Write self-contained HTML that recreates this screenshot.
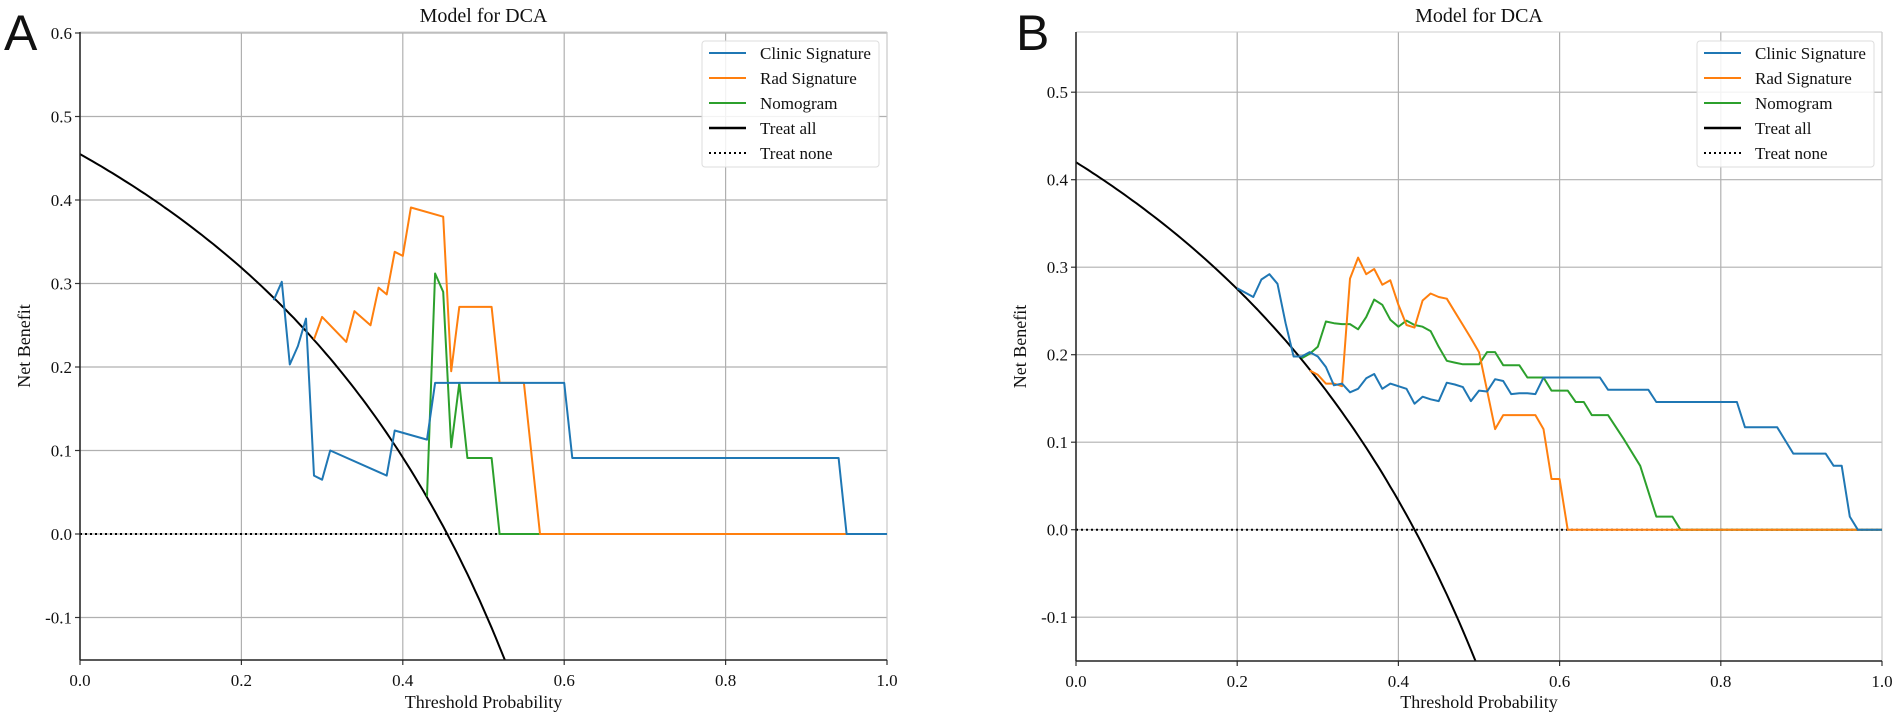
<!DOCTYPE html>
<html><head><meta charset="utf-8"><style>
html,body{margin:0;padding:0;background:#fff;width:1902px;height:716px;overflow:hidden;}
svg{display:block;font-family:"Liberation Serif",serif;overflow:hidden;}
</style></head><body>
<svg id="chart" width="1902" height="716" viewBox="0 0 1902 716" xmlns="http://www.w3.org/2000/svg"></svg>
<script>
// Panel A data
const aClinicT = [0.24,0.25,0.26,0.27,0.28,0.29,0.30,0.31,0.38,0.39,0.43,0.44,0.60,0.61,0.94,0.95,1.0];
const aClinicV = [0.28,0.302,0.203,0.225,0.258,0.07,0.065,0.10,0.07,0.124,0.113,0.181,0.181,0.091,0.091,0.0,0.0];
const aRadT = [0.29,0.30,0.33,0.34,0.36,0.37,0.38,0.39,0.40,0.41,0.45,0.46,0.47,0.51,0.52,0.55,0.57,1.0];
const aRadV = [0.233,0.26,0.23,0.267,0.25,0.295,0.287,0.338,0.333,0.391,0.38,0.195,0.272,0.272,0.181,0.181,0.0,0.0];
const aNomoT = [0.43,0.44,0.45,0.46,0.47,0.48,0.51,0.52,1.0];
const aNomoV = [0.045,0.312,0.29,0.104,0.181,0.091,0.091,0.0,0.0];
const aPrevalence = 0.455;
// Panel B data
const bClinicT = [0.20,0.22,0.23,0.24,0.25,0.26,0.27,0.28,0.29,0.30,0.31,0.32,0.33,0.34,0.35,0.36,0.37,0.38,0.39,0.40,0.41,0.42,0.43,0.44,0.45,0.46,0.47,0.48,0.49,0.50,0.51,0.52,0.53,0.54,0.55,0.56,0.57,0.58,0.65,0.66,0.71,0.72,0.82,0.83,0.87,0.89,0.93,0.94,0.95,0.96,0.97,1.0];
const bClinicV = [0.276,0.266,0.286,0.292,0.281,0.236,0.198,0.198,0.203,0.198,0.186,0.165,0.167,0.157,0.161,0.173,0.178,0.161,0.167,0.164,0.161,0.144,0.152,0.149,0.147,0.168,0.166,0.163,0.147,0.159,0.158,0.172,0.170,0.155,0.156,0.156,0.155,0.174,0.174,0.160,0.160,0.146,0.146,0.117,0.117,0.087,0.087,0.073,0.073,0.015,0.0,0.0];
const bRadT = [0.29,0.30,0.31,0.32,0.33,0.34,0.35,0.36,0.37,0.38,0.39,0.40,0.41,0.42,0.43,0.44,0.45,0.46,0.47,0.48,0.49,0.50,0.51,0.52,0.53,0.57,0.58,0.59,0.60,0.61,1.0];
const bRadV = [0.182,0.177,0.167,0.167,0.164,0.287,0.311,0.292,0.298,0.280,0.285,0.257,0.234,0.231,0.262,0.270,0.266,0.264,0.249,0.234,0.219,0.203,0.159,0.115,0.131,0.131,0.115,0.058,0.058,0.0,0.0];
const bNomoT = [0.28,0.29,0.30,0.31,0.32,0.33,0.34,0.35,0.36,0.37,0.38,0.39,0.40,0.41,0.42,0.43,0.44,0.45,0.46,0.47,0.48,0.49,0.50,0.51,0.52,0.53,0.55,0.56,0.58,0.59,0.61,0.62,0.63,0.64,0.66,0.68,0.70,0.72,0.74,0.75,1.0];
const bNomoV = [0.196,0.201,0.209,0.238,0.236,0.235,0.235,0.229,0.243,0.263,0.257,0.240,0.232,0.239,0.234,0.232,0.227,0.209,0.193,0.191,0.189,0.189,0.189,0.203,0.203,0.188,0.188,0.174,0.174,0.159,0.159,0.146,0.146,0.131,0.131,0.103,0.073,0.015,0.015,0.0,0.0];
const bPrevalence = 0.42;
const xTicks = [0,0.2,0.4,0.6,0.8,1.0];
const xTickLabels = ["0.0","0.2","0.4","0.6","0.8","1.0"];
const aYTicks = [-0.1,0,0.1,0.2,0.3,0.4,0.5,0.6];
const aYTickLabels = ["-0.1","0.0","0.1","0.2","0.3","0.4","0.5","0.6"];
const bYTicks = [-0.1,0,0.1,0.2,0.3,0.4,0.5];
const bYTickLabels = ["-0.1","0.0","0.1","0.2","0.3","0.4","0.5"];
const legendLabels = ["Clinic Signature","Rad Signature","Nomogram","Treat all","Treat none"];

const NS="http://www.w3.org/2000/svg";
const svg=document.getElementById('chart');
function mk(tag,attrs,parent){const e=document.createElementNS(NS,tag);for(const k in attrs)e.setAttribute(k,attrs[k]);(parent||svg).appendChild(e);return e;}
const C_BLUE="#1f77b4",C_OR="#ff7f0e",C_GR="#2ca02c";

function panel(cfg){
  const g=mk('g',{});
  
  
  const L=cfg.left,R=cfg.right,T=cfg.top,B=cfg.bottom;
  const sx=t=>L+(R-L)*t;
  const sy=v=>cfg.zeroY-v*cfg.unit;
  const clip=mk('clipPath',{id:cfg.name+'-clip'},g);
  mk('rect',{x:L,y:T,width:R-L,height:B-T},clip);
  xTicks.forEach((t,i)=>{
    const gl=mk('line',{x1:sx(t),x2:sx(t),y1:T,y2:B,stroke:'#b0b0b0','stroke-width':1.2},g);
    
    
    mk('line',{x1:sx(t),x2:sx(t),y1:B,y2:B+5,stroke:'#333','stroke-width':1.2},g);
    const tl=mk('text',{x:sx(t),y:B+26,'text-anchor':'middle','font-size':17,fill:'#111'},g);
    tl.textContent=xTickLabels[i];
    
    
  });
  cfg.yTicks.forEach((v,i)=>{
    const gl=mk('line',{x1:L,x2:R,y1:sy(v),y2:sy(v),stroke:'#b0b0b0','stroke-width':1.2},g);
    
    
    mk('line',{x1:L-5,x2:L,y1:sy(v),y2:sy(v),stroke:'#333','stroke-width':1.2},g);
    const tl=mk('text',{x:L-8,y:sy(v)+6,'text-anchor':'end','font-size':17,fill:'#111'},g);
    tl.textContent=cfg.yTickLabels[i];
    
    
  });
  mk('line',{x1:L,x2:R,y1:T,y2:T,stroke:'#ccc','stroke-width':1},g);
  mk('line',{x1:R,x2:R,y1:T,y2:B,stroke:'#ccc','stroke-width':1},g);
  const plot=mk('g',{'clip-path':'url(#'+cfg.name+'-clip)'},g);
  const tn=mk('line',{x1:L,x2:R,y1:sy(0),y2:sy(0),stroke:'#000','stroke-width':2,'stroke-dasharray':'2,3'},plot);
  
  
  function series(ts,vs,color,nm){
    const d=ts.map((t,i)=>(i?'L':'M')+sx(t).toFixed(1)+','+sy(vs[i]).toFixed(1)).join('');
    const p=mk('path',{d:d,fill:'none',stroke:color,'stroke-width':2,'stroke-linejoin':'round'},plot);
    
    
  }
  const tt=[],tv=[];
  for(let t=0;t<=0.7;t+=0.005){tt.push(t);tv.push(cfg.prev-(1-cfg.prev)*t/(1-t));}
  series(tt,tv,'#000','treat-all-line');
  series(cfg.nomoT,cfg.nomoV,C_GR,'nomogram-line');
  series(cfg.radT,cfg.radV,C_OR,'rad-signature-line');
  series(cfg.clinT,cfg.clinV,C_BLUE,'clinic-signature-line');
  mk('line',{x1:L,x2:L,y1:T,y2:B,stroke:'#222','stroke-width':1.5},g);
  mk('line',{x1:L,x2:R,y1:B,y2:B,stroke:'#222','stroke-width':1.5},g);
  const ti=mk('text',{x:(L+R)/2,y:22,'text-anchor':'middle','font-size':20,fill:'#111'},g);
  ti.textContent='Model for DCA';
  
  
  const xl=mk('text',{x:(L+R)/2,y:708,'text-anchor':'middle','font-size':18,fill:'#111'},g);
  xl.textContent='Threshold Probability';
  
  
  const yx=L-50,yy=(T+B)/2;
  const yl=mk('text',{x:yx,y:yy,'text-anchor':'middle','font-size':18,fill:'#111',transform:'rotate(-90 '+yx+' '+yy+')'},g);
  yl.textContent='Net Benefit';
  
  
  const pl=mk('text',{x:cfg.letterX,y:50,'font-size':50,fill:'#111','font-family':'"Liberation Sans","DejaVu Sans",sans-serif'},g);
  pl.textContent=cfg.letter;
  
  
  const lg=mk('g',{},g);
  
  
  const bx=R-185,by=41;
  mk('rect',{x:bx,y:by,width:177,height:126,rx:3,fill:'#fff','fill-opacity':0.85,stroke:'#ddd','stroke-width':1},lg);
  const cols=[C_BLUE,C_OR,C_GR,'#000','#000'];
  legendLabels.forEach((lab,i)=>{
    const y=by+12+i*25;
    const ln=mk('line',{x1:bx+7,x2:bx+44,y1:y,y2:y,stroke:cols[i],'stroke-width':i===3?2.5:2},lg);
    if(i===4)ln.setAttribute('stroke-dasharray','2,3');
    const tx=mk('text',{x:bx+58,y:y+6,'font-size':17,fill:'#111'},lg);
    tx.textContent=lab;
    
    
  });
}
panel({name:'panel-a',left:80,right:887,top:32,bottom:660,zeroY:534,unit:835,prev:aPrevalence,
  yTicks:aYTicks,yTickLabels:aYTickLabels,clinT:aClinicT,clinV:aClinicV,radT:aRadT,radV:aRadV,nomoT:aNomoT,nomoV:aNomoV,letter:'A',letterX:4});
panel({name:'panel-b',left:1076,right:1882,top:32,bottom:661,zeroY:529.7,unit:875,prev:bPrevalence,
  yTicks:bYTicks,yTickLabels:bYTickLabels,clinT:bClinicT,clinV:bClinicV,radT:bRadT,radV:bRadV,nomoT:bNomoT,nomoV:bNomoV,letter:'B',letterX:1016});
</script>
</body></html>
